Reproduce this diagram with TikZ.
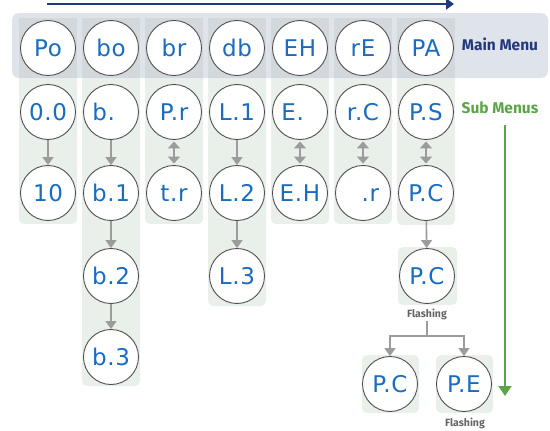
\documentclass[tikz,border=0pt]{standalone}
\usepackage{fontspec}
\setmainfont{DejaVu Sans}
\newfontfamily\segfont{DejaVu Sans}[LetterSpace=3]
\newfontfamily\lblfont{Fira Sans}
\usetikzlibrary{arrows.meta}
\definecolor{navy}{RGB}{34,56,122}
\definecolor{bandc}{RGB}{223,227,234}
\definecolor{bandcol}{RGB}{211,216,221}
\definecolor{shadec}{RGB}{233,239,233}
\definecolor{ringc}{RGB}{80,80,80}
\definecolor{segblue}{RGB}{26,108,192}
\definecolor{arrgray}{RGB}{156,156,156}
\definecolor{subgreen}{RGB}{92,165,70}
\definecolor{flgray}{RGB}{100,100,100}
\tikzset{
  disp/.style={circle, draw=ringc, line width=0.9pt, fill=white, minimum size=55pt, inner sep=0pt,
    text=segblue, font=\segfont\fontsize{23}{23}\selectfont},
  colshade/.style={fill=shadec, rounded corners=5pt},
  arr/.style={draw=arrgray, line width=1.6pt, -{Triangle[width=11pt,length=8pt]}},
  darr/.style={draw=arrgray, line width=1.6pt, {Triangle[width=12pt,length=7pt]}-{Triangle[width=12pt,length=7pt]}, shorten <=1.5pt, shorten >=1.5pt},
  gline/.style={draw=arrgray, line width=1.6pt},
  menulbl/.style={font=\lblfont\bfseries\fontsize{15.5}{16}\selectfont},
  flash/.style={font=\lblfont\bfseries\fontsize{10.5}{11}\selectfont, text=flgray, inner sep=1pt}
}
\begin{document}
\begin{tikzpicture}[x=1pt,y=-1pt]
\useasboundingbox (0,0) rectangle (550,431);
% column shading below band
\foreach \cx/\by in {48/224,111/386,174/224,237/306,300/224,363/224,426/225}{
  \fill[colshade] (\cx-29,60) rectangle (\cx+29,\by);
}
% separate shaded squares
\fill[colshade] (398,247) rectangle (457,305);
\fill[colshade] (362,355) rectangle (419,413);
\fill[colshade] (436,355) rectangle (493,413);
% main menu band
\fill[bandc, rounded corners=7pt] (12,13) rectangle (548,78);
\foreach \cx in {48,111,174,237,300,363,426}{
  \fill[bandcol] (\cx-29,18) rectangle (\cx+29,78);
}
% top arrow
\coordinate (ts) at (47,4);
\coordinate (te) at (454,4);
\draw[navy, line width=2pt, -{Triangle[width=11pt,length=8pt]}] (ts) -- (te);
% labels
\node[menulbl, text=navy] (mm) at (500,44) {Main Menu};
\node[menulbl, text=subgreen] (sm) at (500,108) {Sub Menus};
% row 1
\node[disp] (a1) at (48,48) {Po};
\node[disp] (b1) at (111,48) {bo};
\node[disp] (c1) at (174,48) {br};
\node[disp] (d1) at (237,48) {db};
\node[disp] (e1) at (300,48) {EH};
\node[disp] (f1) at (363,48) {rE};
\node[disp] (g1) at (426,48) {PA};
% row 2
\node[disp] (a2) at (48,112) {0.0};
\node[disp] (b2) at (111,112) {b.\phantom{0}};
\node[disp] (c2) at (174,112) {P.r};
\node[disp] (d2) at (237,112) {L.1};
\node[disp] (e2) at (300,112) {E.\phantom{0}};
\node[disp] (f2) at (363,112) {r.C};
\node[disp] (g2) at (426,112) {P.S};
% row 3
\node[disp] (a3) at (48,193) {10};
\node[disp] (b3) at (111,193) {b.1};
\node[disp] (c3) at (174,193) {t.r};
\node[disp] (d3) at (237,193) {L.2};
\node[disp] (e3) at (300,193) {E.H};
\node[disp] (f3) at (363,193) {\phantom{0}.r};
\node[disp] (g3) at (426,193) {P.C};
% row 4
\node[disp] (b4) at (111,276) {b.2};
\node[disp] (d4) at (237,276) {L.3};
\node[disp] (g4) at (427,276) {P.C};
\node[flash] (fl1) at (427,314) {Flashing};
% row 5
\node[disp] (b5) at (111,357) {b.3};
% row 6
\node[disp] (pc) at (390,384) {P.C};
\node[disp] (pe) at (464,384) {P.E};
\node[flash] (fl2) at (465,423) {Flashing};
% arrows
\draw[arr] (a2) -- (a3);
\draw[arr] (b2) -- (b3);
\draw[arr] (b3) -- (b4);
\draw[arr] (b4) -- (b5);
\draw[arr] (d2) -- (d3);
\draw[arr] (d3) -- (d4);
\draw[arr] (g3) -- (g4);
\draw[darr] (c2) -- (c3);
\draw[darr] (e2) -- (e3);
\draw[darr] (f2) -- (f3);
\draw[darr] (g2) -- (g3);
% branch
\coordinate (br) at (427,336);
\draw[gline] (fl1.south) -- (br);
\draw[arr] (br) -| (pc.north);
\draw[arr] (br) -| (pe.north);
% green arrow
\coordinate (gs) at (505,125);
\coordinate (ge) at (505,396);
\draw[subgreen, line width=2pt, -{Triangle[width=13pt,length=10pt]}] (gs) -- (ge);
\end{tikzpicture}
\end{document}
